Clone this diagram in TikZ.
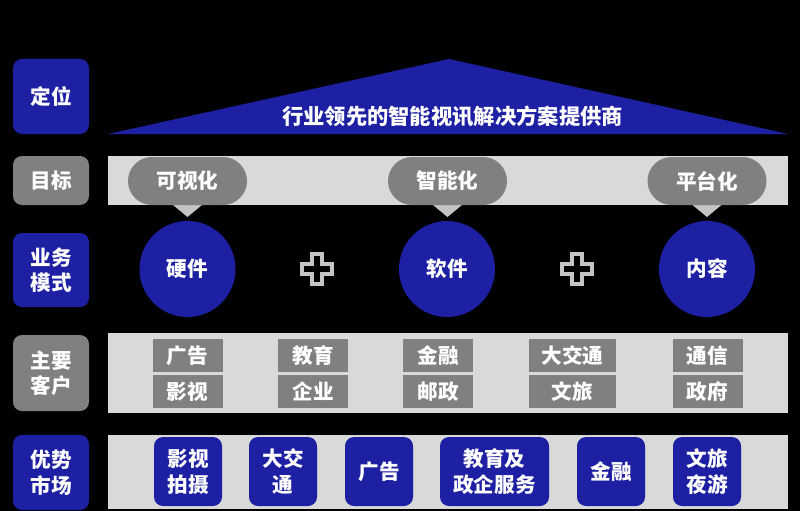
\documentclass[tikz,border=0pt]{standalone}
\usepackage{fontspec}
\usetikzlibrary{shapes.misc}
\setmainfont{Noto Sans CJK SC}
\definecolor{dblue}{RGB}{29,32,163}
\definecolor{mgray}{RGB}{128,128,128}
\definecolor{lgray}{RGB}{217,217,217}
\definecolor{pgray}{RGB}{196,196,196}
\begin{document}
\begin{tikzpicture}[x=1pt,y=-1pt,
  txt/.style={text=white, font=\fontsize{20.6}{25.5}\selectfont\bfseries, inner sep=0pt},
  lbl/.style={txt, rounded corners=9pt, minimum width=76pt, align=center},
  bluelbl/.style={lbl, fill=dblue},
  graylbl/.style={lbl, fill=mgray},
  pill/.style={txt, rounded rectangle, fill=mgray, minimum width=119pt, minimum height=48pt},
  circ/.style={txt, circle, fill=dblue, minimum size=96pt},
  gtag/.style={txt, fill=mgray, minimum width=70pt, minimum height=33pt},
  btag/.style={txt, rounded corners=9pt, fill=dblue, minimum width=68pt, minimum height=69pt, align=center, font=\fontsize{20.6}{26.5}\selectfont\bfseries},
  plusshape/.style={draw=pgray, line width=3.8pt, fill=black, line join=miter}
]
\fill[black] (0,0) rectangle (800,511);
\useasboundingbox (0,0) rectangle (800,511);

% left labels
\node[bluelbl, minimum height=75pt] (l1) at (51,96.5) {定位};
\node[graylbl, minimum height=49pt] (l2) at (51,180.5) {目标};
\node[bluelbl, minimum height=74pt] (l3) at (51,270) {业务\\模式};
\node[graylbl, minimum height=76pt] (l4) at (51,373) {主要\\客户};
\node[bluelbl, minimum height=75pt] (l5) at (51,472.5) {优势\\市场};

% roof
\fill[dblue] (108,134) -- (449,59) -- (788,134) -- cycle;
\node[txt, font=\fontsize{21.3}{25}\selectfont\bfseries] (title) at (452.5,116) {行业领先的智能视讯解决方案提供商};

% goal bar
\fill[lgray] (108,156) rectangle (788,205);
\foreach \x/\t/\n in {187.5/可视化/p1, 447.5/智能化/p2, 707/平台化/p3}{
  \fill[pgray] (\x-14.5,205) -- (\x+14.5,205) -- (\x,217) -- cycle;
  \node[pill] (\n) at (\x,181) {\t};
}

% circles
\node[circ] (c1) at (187.5,269) {硬件};
\node[circ] (c2) at (447,269) {软件};
\node[circ] (c3) at (707,269) {内容};
\foreach \x in {317,577}{
  \draw[plusshape] (\x-5,254) -- (\x+5,254) -- (\x+5,264) -- (\x+15,264) -- (\x+15,274) -- (\x+5,274) -- (\x+5,284) -- (\x-5,284) -- (\x-5,274) -- (\x-15,274) -- (\x-15,264) -- (\x-5,264) -- cycle;
}

% customers bar
\fill[lgray] (108,333) rectangle (788,413);
\node[gtag] (g1a) at (187.5,355.5) {广告};
\node[gtag] (g1b) at (187.5,391.5) {影视};
\node[gtag] (g2a) at (313,355.5) {教育};
\node[gtag] (g2b) at (313,391.5) {企业};
\node[gtag] (g3a) at (438,355.5) {金融};
\node[gtag] (g3b) at (438,391.5) {邮政};
\node[gtag, minimum width=87pt] (g4a) at (572.5,355.5) {大交通};
\node[gtag, minimum width=87pt] (g4b) at (572.5,391.5) {文旅};
\node[gtag] (g5a) at (707.5,355.5) {通信};
\node[gtag] (g5b) at (707.5,391.5) {政府};

% markets bar
\fill[lgray] (108,435) rectangle (788,509);
\node[btag] (b1) at (188,471.5) {影视\\拍摄};
\node[btag] (b2) at (283,471.5) {大交\\通};
\node[btag] (b3) at (379,471.5) {广告};
\node[btag, minimum width=109pt] (b4) at (494.5,471.5) {教育及\\政企服务};
\node[btag] (b5) at (611,471.5) {金融};
\node[btag] (b6) at (707,471.5) {文旅\\夜游};
\end{tikzpicture}
\end{document}
